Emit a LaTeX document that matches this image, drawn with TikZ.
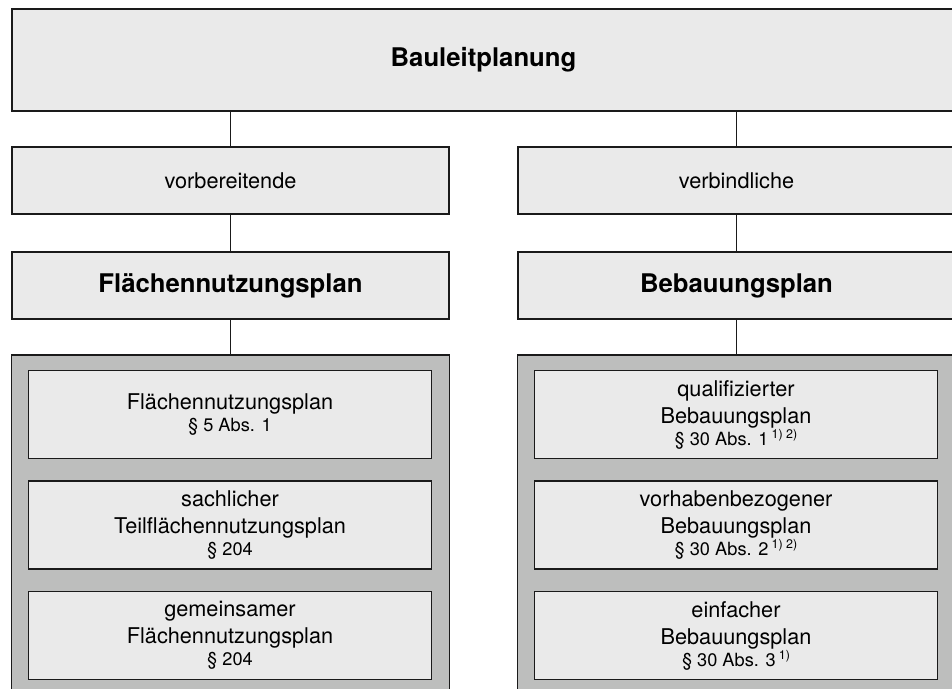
\documentclass[tikz,border=0pt]{standalone}
\usepackage{fontspec}
\setmainfont{TeX Gyre Heros}
\definecolor{boxgray}{HTML}{EAEAEA}
\definecolor{panelgray}{HTML}{BDBEBD}
\definecolor{linegray}{HTML}{1A1A1A}
\newcommand{\absatz}[1]{{\fontsize{18.2}{20}\selectfont #1}}
\newcommand{\fussnote}[1]{\,\raisebox{6.5pt}{\fontsize{12.5}{14}\selectfont #1}}
\tikzset{
    box/.style={draw=linegray, line width=1.5pt, fill=boxgray, inner sep=0pt,
        align=center, minimum width=437pt, minimum height=67pt,
        font=\fontsize{21.7}{27}\selectfont},
    headbox/.style={box, font=\fontsize{25.7}{30}\selectfont\bfseries},
    panel/.style={draw=linegray, line width=1.5pt, fill=panelgray, inner sep=0pt,
        minimum width=438pt, minimum height=342pt},
    entry/.style={box, minimum width=403pt, minimum height=88pt},
    link/.style={draw=linegray, line width=1.5pt}
}
\begin{document}
\begin{tikzpicture}[x=1pt, y=-1pt]
    \path[use as bounding box, clip] (0,0) rectangle (952,688);
    \node[headbox, minimum width=943pt, minimum height=102pt] (plan) at (483.5,60) {Bauleitplanung};
    \node[box] (vorb) at (230.5,180.5) {vorbereitende};
    \node[box] (verb) at (736.5,180.5) {verbindliche};
    \node[headbox, minimum width=437pt, minimum height=67pt] (fnp) at (230.5,285.5) {Flächennutzungsplan};
    \node[headbox, minimum width=437pt, minimum height=67pt] (bp) at (736.5,285.5) {Bebauungsplan};
    \node[panel] (fnppanel) at (230.5,526) {};
    \node[panel] (bppanel) at (736.5,526) {};
    \node[entry] (fnp1) at (230,414.5) {Flächennutzungsplan\\[-5pt]\absatz{§ 5 Abs. 1}};
    \node[entry] (fnp2) at (230,525) {sachlicher\\Teilflächennutzungsplan\\[-5pt]\absatz{§ 204}};
    \node[entry] (fnp3) at (230,635.5) {gemeinsamer\\Flächennutzungsplan\\[-5pt]\absatz{§ 204}};
    \node[entry] (bp1) at (736,414.5) {qualifizierter\\Bebauungsplan\\[-5pt]\absatz{§ 30 Abs. 1\fussnote{1) 2)}}};
    \node[entry] (bp2) at (736,525) {vorhabenbezogener\\Bebauungsplan\\[-5pt]\absatz{§ 30 Abs. 2\fussnote{1) 2)}}};
    \node[entry] (bp3) at (736,635.5) {einfacher\\Bebauungsplan\\[-5pt]\absatz{§ 30 Abs. 3\fussnote{1)}}};
    \draw[link] (vorb.north) -- (vorb.north |- plan.south);
    \draw[link] (verb.north) -- (verb.north |- plan.south);
    \draw[link] (vorb.south) -- (fnp.north);
    \draw[link] (verb.south) -- (bp.north);
    \draw[link] (fnp.south) -- (fnppanel.north);
    \draw[link] (bp.south) -- (bppanel.north);
\end{tikzpicture}
\end{document}
